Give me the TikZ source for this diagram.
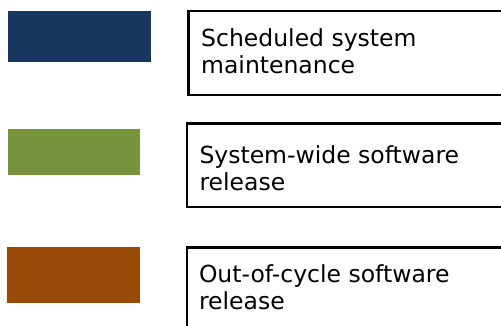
\documentclass[tikz,border=0pt]{standalone}
\usepackage{fontspec}
\setmainfont{DejaVu Sans}
\definecolor{maintblue}{HTML}{17375E}
\definecolor{releasegreen}{HTML}{77933C}
\definecolor{cycleorange}{HTML}{984807}
\begin{document}
\begin{tikzpicture}[x=1pt, y=-1pt,
    swatch/.style={anchor=north west, inner sep=0pt, outer sep=0pt},
    frame/.style={draw, line width=2.6pt, anchor=north west, inner sep=0pt, outer sep=0pt, minimum width=340pt},
    caption/.style={anchor=base west, inner sep=0pt, align=left, font=\fontsize{23.5}{26.5}\selectfont}]
    \useasboundingbox (0,0) rectangle (501,326);
    \clip (0,0) rectangle (501,326);

    % colour swatches
    \node[swatch, fill=maintblue, minimum width=143pt, minimum height=51.5pt] (maint) at (8,11) {};
    \node[swatch, fill=releasegreen, minimum width=132pt, minimum height=46.5pt] (release) at (8,129) {};
    \node[swatch, fill=cycleorange, minimum width=133pt, minimum height=55.5pt] (outcycle) at (7,247) {};

    % framed captions
    \node[frame, minimum height=83.8pt] (maintbox) at (188.7,11.2) {};
    \node[frame, minimum height=83.2pt] (releasebox) at (186.8,123.8) {};
    \node[frame, minimum height=100pt] (outcyclebox) at (187,247.5) {};

    % base anchor sits on the last line
    \node[caption] (mainttext) at (201,73.3) {Scheduled system\\maintenance};
    \node[caption] (releasetext) at (199.3,190) {System-wide software\\release};
    \node[caption] (outcycletext) at (198.8,309) {Out-of-cycle software\\release};
\end{tikzpicture}
\end{document}
